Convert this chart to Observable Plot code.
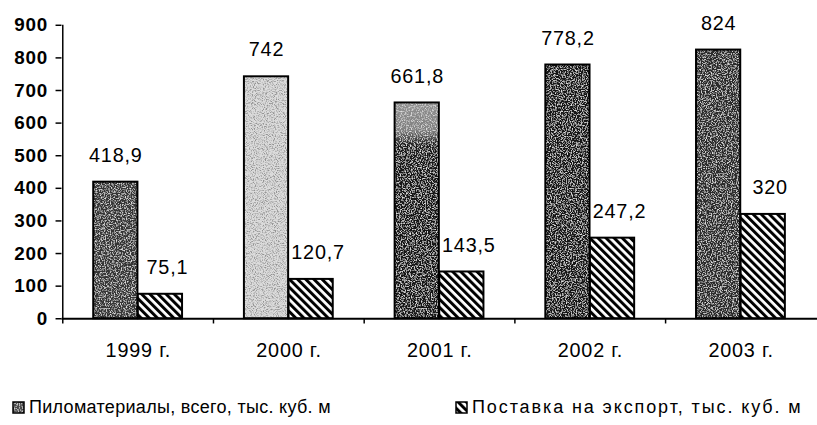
<!DOCTYPE html>
<html>
<head>
<meta charset="utf-8">
<script src="https://cdn.jsdelivr.net/npm/d3@7"></script>
<script src="https://cdn.jsdelivr.net/npm/@observablehq/plot@0.6"></script>
<style>
  html, body { margin: 0; padding: 0; background: #fff; overflow: hidden; width: 817px; height: 425px; }
  #chart { position: absolute; left: 0; top: 0; }
  #legend { position: absolute; left: 0; top: 397px; width: 817px; height: 22px;
            font-family: "Liberation Sans", Arial, sans-serif; font-size: 18px; color: #000; }
  .item { position: absolute; top: 0; display: flex; align-items: center; white-space: nowrap; }
  .item svg { margin-right: 4px; }
</style>
</head>
<body>
<div id="chart"></div>
<div id="legend"></div>
<script>
// ---- data ----
const years = ["1999 г.", "2000 г.", "2001 г.", "2002 г.", "2003 г."];
const lumber = [418.9, 742, 661.8, 778.2, 824];
const exportVolume = [75.1, 120.7, 143.5, 247.2, 320];
const yTicks = [0, 100, 200, 300, 400, 500, 600, 700, 800, 900];
const seriesNames = ["Пиломатериалы, всего, тыс. куб. м", "Поставка на экспорт, тыс. куб. м"];

// ---- styles (scan shading of the stippled bars) ----
const lumberShades = ["#363636", "#dcdcdc", "url(#g2001)", "#141414", "#2c2c2c"];
const speckKinds = ["speckL", "speckD", "speckL", "speckL", "speckL"];

const rows = years.map((year, i) => ({year, lumber: lumber[i], exp: exportVolume[i], shade: lumberShades[i]}));
const fmt = v => String(v).replace(".", ",");

const step = (824 - 62) / years.length;

const chart = Plot.plot({
  width: 824,
  height: 370,
  marginLeft: 62,
  marginRight: 0,
  marginTop: 25,
  marginBottom: 49,
  style: {fontFamily: "'Liberation Sans', Arial, sans-serif", color: "black", background: "white", overflow: "visible", letterSpacing: "0.8px"},
  x: {domain: years, padding: 0, label: null},
  y: {domain: [0, 900], label: null},
  color: {type: "identity"},
  marks: [
    Plot.barY(rows, {x: "year", y: "lumber", fill: d => d.shade, insetLeft: 31, insetRight: step - 76}),
    Plot.barY(rows, {x: "year", y: "lumber", fill: "none", stroke: "black", strokeWidth: 2, insetLeft: 31, insetRight: step - 76}),
    Plot.barY(rows, {x: "year", y: "exp", fill: () => "url(#hatch)", stroke: "black", strokeWidth: 2, insetLeft: 76, insetRight: step - 121}),
    Plot.ruleY([0], {strokeWidth: 2}),
    Plot.ruleX([years[0]], {dx: -step / 2, y1: 0, y2: 900, strokeWidth: 1.5}),
    Plot.ruleX(years, {dx: -step / 2, y1: 0, y2: -16, strokeWidth: 1.5}),
    Plot.axisY({ticks: yTicks, tickSize: 6, tickPadding: 8, fontSize: 19, fontWeight: "bold", label: null, tickFormat: d => String(d), stroke: "black", strokeWidth: 1.5}),
    Plot.axisX({tickSize: 0, tickPadding: 24, fontSize: 20, label: null}),
    Plot.text(rows, {x: "year", y: "lumber", text: d => fmt(d.lumber), dx: 53.5 - step / 2, dy: -27, fontSize: 20}),
    Plot.text(rows, {x: "year", y: "exp", text: d => fmt(d.exp), dx: 98.5 - step / 2 + 7, dy: -27, fontSize: 20})
  ]
});

// defs: hatch pattern, gradient, speckle filters
const NS = "http://www.w3.org/2000/svg";
const defs = document.createElementNS(NS, "defs");
defs.innerHTML = `
  <pattern id="hatch" patternUnits="userSpaceOnUse" width="5.8" height="5.8" patternTransform="rotate(-45)">
    <rect width="5.8" height="5.8" fill="white"/>
    <rect width="3" height="5.8" fill="black"/>
  </pattern>
  <linearGradient id="g2001" x1="0" y1="0" x2="0" y2="1">
    <stop offset="0" stop-color="#909090"/>
    <stop offset="0.13" stop-color="#808080"/>
    <stop offset="0.2" stop-color="#1a1a1a"/>
    <stop offset="1" stop-color="#151515"/>
  </linearGradient>
  <filter id="speckL" x="0" y="0" width="1" height="1">
    <feTurbulence type="fractalNoise" baseFrequency="0.8" numOctaves="2" seed="3" result="n"/>
    <feColorMatrix in="n" type="matrix" values="0 0 0 0 0.75  0 0 0 0 0.75  0 0 0 0 0.75  3.2 0 0 0 -1.5" result="s"/>
    <feComposite in="s" in2="SourceGraphic" operator="in" result="c"/>
    <feMerge><feMergeNode in="SourceGraphic"/><feMergeNode in="c"/></feMerge>
  </filter>
  <filter id="speckD" x="0" y="0" width="1" height="1">
    <feTurbulence type="fractalNoise" baseFrequency="0.9" numOctaves="2" seed="7" result="n"/>
    <feColorMatrix in="n" type="matrix" values="0 0 0 0 0.3  0 0 0 0 0.3  0 0 0 0 0.3  3.6 0 0 0 -1.6" result="s"/>
    <feComposite in="s" in2="SourceGraphic" operator="in" result="c"/>
    <feMerge><feMergeNode in="SourceGraphic"/><feMergeNode in="c"/></feMerge>
  </filter>`;
chart.insertBefore(defs, chart.firstChild);

d3.select(chart).selectAll("g[aria-label='bar']").filter((d, i) => i === 0)
  .selectAll("rect").attr("filter", (d, i) => `url(#${speckKinds[i]})`);

document.getElementById("chart").appendChild(chart);

// legend
const legend = document.getElementById("legend");
const swatches = [
  `<svg width="13" height="13"><rect x="1" y="1" width="11" height="11" fill="#4a4a4a" filter="url(#speckL)"/><rect x="1" y="1" width="11" height="11" fill="none" stroke="black" stroke-width="1.5"/></svg>`,
  `<svg width="13" height="13"><rect x="1" y="1" width="11" height="11" fill="url(#hatch)" stroke="black" stroke-width="1.5"/></svg>`
];
const lefts = [12, 455];
const spacings = ["0.3px", "1.9px"];
seriesNames.forEach((name, i) => {
  const div = document.createElement("div");
  div.className = "item";
  div.style.left = lefts[i] + "px";
  div.innerHTML = swatches[i] + `<span style="letter-spacing:${spacings[i]}">${name}</span>`;
  legend.appendChild(div);
});
</script>
</body>
</html>
